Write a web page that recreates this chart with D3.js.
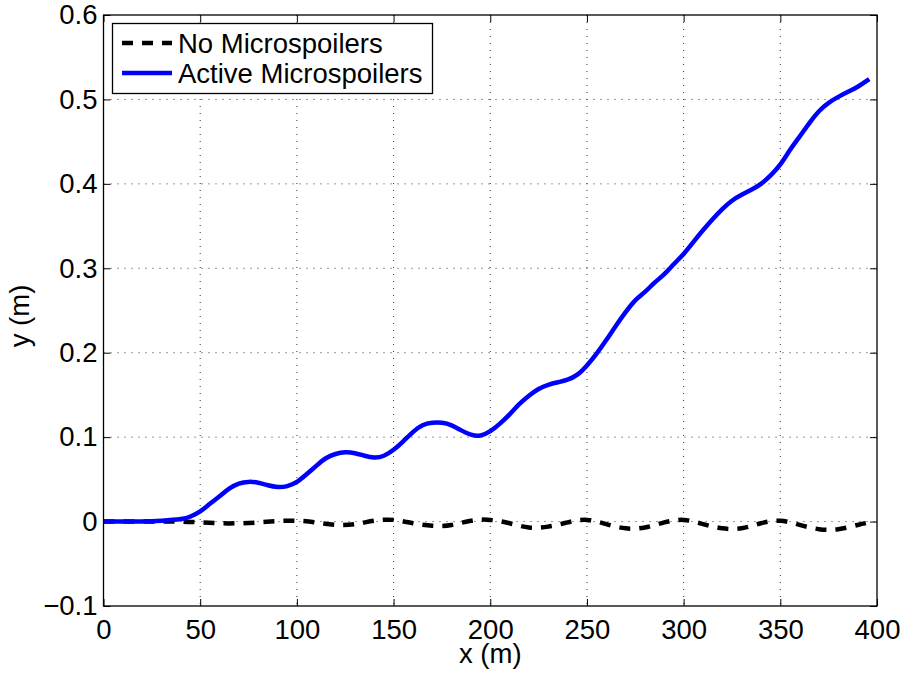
<!DOCTYPE html>
<html>
<head>
<meta charset="utf-8">
<script src="https://cdn.jsdelivr.net/npm/d3@7"></script>
<style>
  body { margin: 0; background: #fff; }
  svg text { font-family: "Liberation Sans", Arial, sans-serif; fill: #000; }
</style>
</head>
<body>
<div id="chart"></div>
<script>
// x positions (m) and y values (m)
const xBlue = [0, 10, 20, 30, 40, 45, 50, 55, 60, 65, 70, 75, 80, 85, 90, 95, 100, 105, 110, 115,
  120, 125, 130, 135, 140, 145, 150, 155, 160, 165, 170, 175, 180, 185, 190, 195, 200, 205, 210,
  215, 220, 225, 230, 235, 240, 245, 250, 255, 260, 265, 270, 275, 280, 285, 290, 295, 300, 305,
  310, 315, 320, 325, 330, 335, 340, 345, 350, 355, 360, 365, 370, 375, 380, 385, 390, 396];
const yBlue = [0, 0, 0, 0.001, 0.003, 0.006, 0.012, 0.021, 0.030, 0.039, 0.045, 0.047, 0.046,
  0.043, 0.041, 0.042, 0.047, 0.056, 0.066, 0.075, 0.080, 0.082, 0.081, 0.078, 0.076, 0.078,
  0.085, 0.095, 0.106, 0.114, 0.117, 0.117, 0.114, 0.108, 0.103, 0.102, 0.107, 0.116, 0.127,
  0.139, 0.149, 0.157, 0.162, 0.165, 0.168, 0.174, 0.185, 0.199, 0.215, 0.232, 0.248, 0.262,
  0.272, 0.283, 0.293, 0.305, 0.317, 0.331, 0.345, 0.358, 0.370, 0.380, 0.387, 0.393, 0.400,
  0.410, 0.423, 0.440, 0.456, 0.472, 0.486, 0.496, 0.503, 0.509, 0.515, 0.524];

const xBlack = [0, 10, 20, 30, 40, 50, 60, 70, 80, 90, 100, 110, 120, 130, 140, 150, 160, 170,
  180, 190, 200, 210, 220, 230, 240, 250, 260, 270, 280, 290, 300, 310, 320, 330, 340, 350,
  360, 370, 380, 390, 396];
const yBlack = [0, 0, 0, 0, 0, -0.001, -0.002, -0.002, -0.001, 0.0005, 0.001, -0.001, -0.004,
  -0.003, 0.001, 0.002, -0.002, -0.005, -0.004, 0.001, 0.002, -0.002, -0.007, -0.006, -0.001,
  0.002, -0.003, -0.008, -0.007, -0.001, 0.002, -0.003, -0.008, -0.008, -0.002, 0.001, -0.004,
  -0.009, -0.009, -0.004, -0.001];

const xTicks = [0, 50, 100, 150, 200, 250, 300, 350, 400];
const yTicks = [-0.1, 0, 0.1, 0.2, 0.3, 0.4, 0.5, 0.6];
const seriesNames = ["No Microspoilers", "Active Microspoilers"];

const width = 906;
const height = 674;
const margin = { top: 15, right: 29, bottom: 68, left: 103.5 };
const chartWidth = width - margin.left - margin.right;
const chartHeight = height - margin.top - margin.bottom;
const fontSize = "27.5px";

const svg = d3.select("#chart")
    .append("svg")
    .attr("width", width)
    .attr("height", height);

const chart = svg.append("g")
    .attr("transform", `translate(${margin.left}, ${margin.top})`);

const xScale = d3.scaleLinear().domain([0, 400]).range([0, chartWidth]);
const yScale = d3.scaleLinear().domain([-0.1, 0.6]).range([chartHeight, 0]);

const fmtY = d => d < 0 ? "\u2212" + d3.format(".1f")(-d) : (d === 0 ? "0" : d3.format(".1f")(d));

// Grid (dotted)
chart.append("g").selectAll("line")
    .data(xTicks.slice(1, -1))
    .join("line")
    .attr("x1", d => xScale(d)).attr("x2", d => xScale(d))
    .attr("y1", 0).attr("y2", chartHeight)
    .attr("stroke", "#333").attr("stroke-width", 1)
    .attr("stroke-dasharray", "1,6");

chart.append("g").selectAll("line")
    .data(yTicks.slice(1, -1))
    .join("line")
    .attr("x1", 0).attr("x2", chartWidth)
    .attr("y1", d => yScale(d)).attr("y2", d => yScale(d))
    .attr("stroke", "#333").attr("stroke-width", 1)
    .attr("stroke-dasharray", "1,6");

// Axes: ticks inside on all four sides
const tickLen = 7;
const xAxisB = d3.axisBottom(xScale).tickValues(xTicks).tickSize(-tickLen).tickPadding(13).tickFormat(d3.format("d"));
const xAxisT = d3.axisTop(xScale).tickValues(xTicks).tickSize(-tickLen).tickFormat("");
const yAxisL = d3.axisLeft(yScale).tickValues(yTicks).tickSize(-tickLen).tickPadding(6).tickFormat(fmtY);
const yAxisR = d3.axisRight(yScale).tickValues(yTicks).tickSize(-tickLen).tickFormat("");

function styleAxis(g) {
    g.select(".domain").remove();
    g.selectAll("line").attr("stroke", "#000").attr("stroke-width", 1);
    g.selectAll("text").style("font-size", fontSize).attr("fill", "#000");
}

chart.append("g").attr("transform", `translate(0, ${chartHeight})`).call(xAxisB).call(styleAxis);
chart.append("g").call(xAxisT).call(styleAxis);
chart.append("g").call(yAxisL).call(styleAxis);
chart.append("g").attr("transform", `translate(${chartWidth}, 0)`).call(yAxisR).call(styleAxis);

// Lines
const line = d3.line()
    .x(d => xScale(d[0]))
    .y(d => yScale(d[1]))
    .curve(d3.curveNatural);

chart.append("path")
    .datum(xBlack.map((x, i) => [x, yBlack[i]]))
    .attr("fill", "none")
    .attr("stroke", "#000")
    .attr("stroke-width", 4.5)
    .attr("stroke-dasharray", "11,9")
    .attr("d", line);

chart.append("path")
    .datum(xBlue.map((x, i) => [x, yBlue[i]]))
    .attr("fill", "none")
    .attr("stroke", "#0000ff")
    .attr("stroke-width", 4.5)
    .attr("d", line);

// Plot box
chart.append("rect")
    .attr("x", 0).attr("y", 0)
    .attr("width", chartWidth).attr("height", chartHeight)
    .attr("fill", "none").attr("stroke", "#000").attr("stroke-width", 1.3);

// Axis labels
svg.append("text")
    .attr("x", margin.left + chartWidth / 2)
    .attr("y", 663)
    .attr("text-anchor", "middle")
    .style("font-size", fontSize)
    .text("x (m)");

svg.append("text")
    .attr("transform", "translate(29, 316) rotate(-90)")
    .attr("text-anchor", "middle")
    .style("font-size", fontSize)
    .text("y (m)");

// Legend
const legend = svg.append("g").attr("transform", "translate(112, 23)");
legend.append("rect")
    .attr("x", 0.5).attr("y", 0.5)
    .attr("width", 320).attr("height", 70)
    .attr("fill", "#fff").attr("stroke", "#000").attr("stroke-width", 1.3);

const legendItems = [
    { name: seriesNames[0], color: "#000", dash: "11,9" },
    { name: seriesNames[1], color: "#0000ff", dash: null }
];

legendItems.forEach((d, i) => {
    const cy = 20 + i * 30;
    legend.append("line")
        .attr("x1", 10).attr("x2", 60)
        .attr("y1", cy).attr("y2", cy)
        .attr("stroke", d.color)
        .attr("stroke-width", 4.5)
        .attr("stroke-dasharray", d.dash);
    legend.append("text")
        .attr("x", 66).attr("y", cy)
        .attr("dy", "0.36em")
        .style("font-size", fontSize)
        .text(d.name);
});
</script>
</body>
</html>
